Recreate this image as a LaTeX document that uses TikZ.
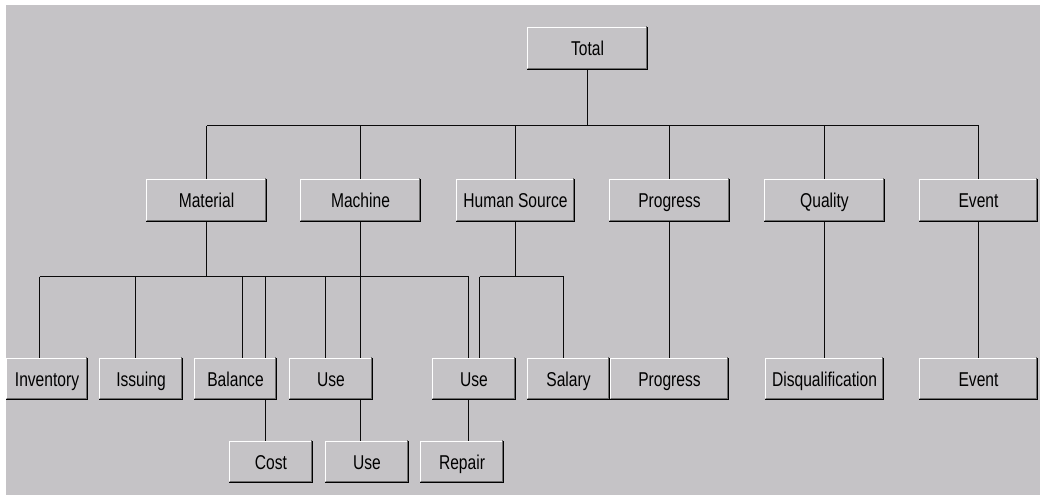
\documentclass[tikz,border=0pt]{standalone}
\usepackage{fontspec}
\setmainfont{Liberation Sans}[FakeStretch=0.78]
\usetikzlibrary{calc}
\definecolor{panel}{RGB}{197,195,198}
\definecolor{edgegray}{RGB}{110,110,110}
\definecolor{wire}{RGB}{10,10,10}
\tikzset{
  btn/.style={rectangle, anchor=north west, inner sep=0pt, outer sep=0pt,
    fill=panel, draw=none, font=\fontsize{20}{22}\selectfont,
    text height=14pt, text depth=0pt, align=center},
  wide/.style={btn, minimum width=121pt, minimum height=43pt},
  leaf/.style={btn, minimum width=84pt, minimum height=42pt},
  link/.style={draw=wire, line width=1.1pt},
}
\begin{document}
\begin{tikzpicture}[x=1pt,y=-1pt]
\useasboundingbox (0,0) rectangle (1040,495);
\fill[white] (0,0) rectangle (1040,495);
\fill[panel] (6,5) rectangle (1040,495);

% root
\node[wide] (total) at (527,27) {Total};

% second row
\node[wide] (mat) at (146,179) {Material};
\node[wide] (mac) at (300,179) {Machine};
\node[wide, minimum width=119pt] (hs) at (456,179) {Human Source};
\node[wide] (prg) at (609,179) {Progress};
\node[wide] (qua) at (764,179) {Quality};
\node[wide, minimum width=119pt] (evt) at (919,179) {Event};

% third row
\node[leaf, minimum width=82pt] (inv) at (6,358) {Inventory};
\node[leaf] (iss) at (99,358) {Issuing};
\node[leaf, minimum width=83pt] (bal) at (194,358) {Balance};
\node[leaf] (useA) at (289,358) {Use};
\node[leaf] (useB) at (432,358) {Use};
\node[leaf, minimum width=83pt] (sal) at (527,358) {Salary};
\node[leaf, minimum width=119pt] (prgB) at (610,358) {Progress};
\node[leaf, minimum width=119pt] (dis) at (765,358) {Disqualification};
\node[leaf, minimum width=119pt] (evtB) at (919,358) {Event};

% fourth row
\node[leaf] (cost) at (229,441) {Cost};
\node[leaf] (useC) at (325,441) {Use};
\node[leaf] (rep) at (420,441) {Repair};

% raised button edges
\foreach \n in {total,mat,mac,hs,prg,qua,evt,inv,iss,bal,useA,useB,sal,prgB,dis,evtB,cost,useC,rep}{
  \draw[white, line width=1.2pt]
    ([shift={(0.6pt,2pt)}]\n.south west) -- ([shift={(0.6pt,-0.6pt)}]\n.north west)
    -- ([shift={(-2pt,-0.6pt)}]\n.north east);
  \draw[edgegray, line width=1pt]
    ([shift={(1pt,1.5pt)}]\n.south west) -- ([shift={(-1.5pt,1.5pt)}]\n.south east)
    -- ([shift={(-1.5pt,1pt)}]\n.north east);
  \draw[black, line width=1.2pt]
    ([shift={(0pt,0.6pt)}]\n.south west) -- ([shift={(-0.6pt,0.6pt)}]\n.south east)
    -- ([shift={(-0.6pt,0pt)}]\n.north east);
}

% bus from the root
\coordinate (tbus) at (587.5,125.5);
\draw[link] (total.south) -- (total.south |- tbus);
\draw[link] (mat.north |- tbus) -- (evt.north |- tbus);
\foreach \n in {mat,mac,hs,prg,qua,evt}{
  \draw[link] (\n.north) -- (\n.north |- tbus);
}

% shared bus of Material and Machine
\coordinate (dInv) at (39.5,276.5);
\coordinate (dIss) at (135.5,276.5);
\coordinate (dBalA) at (242.5,276.5);
\coordinate (dBalB) at (265.5,276.5);
\coordinate (dUseA) at (325.5,276.5);
\coordinate (dUseB) at (468.5,276.5);
\draw[link] (mat.south) -- (mat.south |- dInv);
\draw[link] (dInv) -- (dUseB);
\draw[link] (dInv) -- (dInv |- inv.north);
\draw[link] (dIss) -- (dIss |- iss.north);
\draw[link] (dBalA) -- (dBalA |- bal.north);
\draw[link] (dBalB) -- (dBalB |- bal.north);
\draw[link] (dUseA) -- (dUseA |- useA.north);
\draw[link] (dUseB) -- (dUseB |- useB.north);
\draw[link] (mac.south) -- (mac.south |- useA.north);

% Human Source bus
\coordinate (hA) at (479.5,276.5);
\coordinate (hB) at (563.5,276.5);
\draw[link] (hs.south) -- (hs.south |- hA);
\draw[link] (hA) -- (hB);
\draw[link] (hA) -- (hA |- useB.north);
\draw[link] (hB) -- (hB |- sal.north);

% single children
\draw[link] (prg.south) -- (prg.south |- prgB.north);
\draw[link] (qua.south) -- (qua.south |- dis.north);
\draw[link] (evt.south) -- (evt.south |- evtB.north);

% fourth row links
\draw[link] (dBalB |- bal.south) -- (dBalB |- cost.north);
\draw[link] (mac.south |- useA.south) -- (mac.south |- useC.north);
\draw[link] (dUseB |- useB.south) -- (dUseB |- rep.north);
\end{tikzpicture}
\end{document}
